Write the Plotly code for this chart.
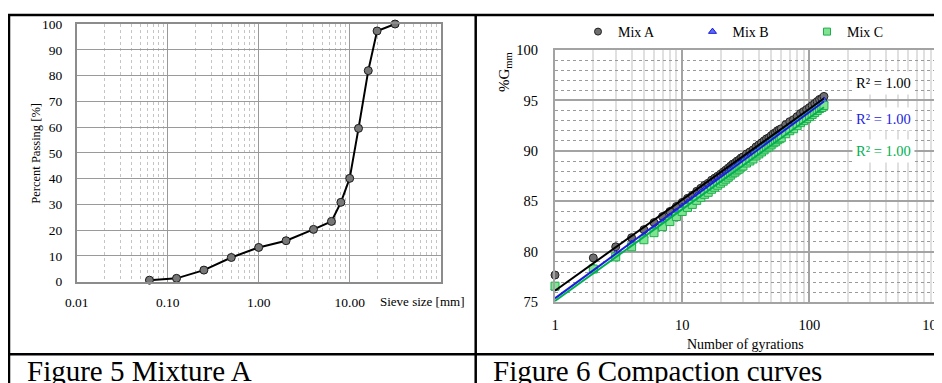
import numpy as np
import plotly.graph_objects as go

# ---------------- data ----------------
sieve_mm = [0.063, 0.125, 0.25, 0.5, 1, 2, 4, 6.3, 8, 10, 12.5, 16, 20, 31.5]
passing_pct = [0.6, 1.3, 4.5, 9.4, 13.3, 15.9, 20.3, 23.4, 30.8, 40.1, 59.5, 81.9, 97.3, 100]
sieve_tickvals = [0.01, 0.1, 1, 10]
sieve_ticktext = ["0.01", "0.10", "1.00", "10.00"]

gyrations = list(range(1, 31)) + list(range(32, 61, 2)) + list(range(65, 131, 5))
mix_a = [77.7, 79.4, 80.5, 81.4, 82.2, 82.9, 83.5, 84.0, 84.5, 84.9,
         85.3, 85.6, 86.0, 86.3, 86.6, 86.8, 87.1, 87.3, 87.5, 87.7,
         87.9, 88.1, 88.3, 88.5, 88.7, 88.8, 89.0, 89.1, 89.3, 89.4,
         89.7, 89.9, 90.1, 90.4, 90.6, 90.8, 91.0, 91.2, 91.3, 91.5,
         91.7, 91.8, 92.0, 92.1, 92.2,
         92.6, 92.9, 93.1, 93.4, 93.7, 93.9, 94.1, 94.3, 94.5, 94.7,
         94.9, 95.1, 95.2, 95.4]
mix_b = [76.4, 78.5, 79.8, 80.8, 81.6, 82.3, 82.9, 83.5, 84.0, 84.5,
         84.9, 85.2, 85.6, 85.9, 86.2, 86.4, 86.7, 86.9, 87.1, 87.3,
         87.5, 87.7, 87.9, 88.1, 88.3, 88.4, 88.6, 88.7, 88.9, 89.0,
         89.3, 89.5, 89.7, 90.0, 90.2, 90.4, 90.6, 90.8, 90.9, 91.1,
         91.3, 91.4, 91.6, 91.7, 91.8,
         92.2, 92.5, 92.7, 93.0, 93.3, 93.5, 93.7, 93.9, 94.1, 94.3,
         94.5, 94.7, 94.8, 95.0]
mix_c = [76.6, 78.3, 79.5, 80.5, 81.2, 81.9, 82.5, 83.0, 83.5, 84.0,
         84.4, 84.7, 85.1, 85.4, 85.7, 85.9, 86.2, 86.4, 86.6, 86.8,
         87.0, 87.2, 87.4, 87.6, 87.8, 87.9, 88.1, 88.2, 88.4, 88.5,
         88.8, 89.0, 89.2, 89.5, 89.7, 89.9, 90.1, 90.3, 90.4, 90.6,
         90.8, 90.9, 91.1, 91.2, 91.3,
         91.7, 92.0, 92.2, 92.5, 92.8, 93.0, 93.2, 93.4, 93.6, 93.8,
         94.0, 94.2, 94.3, 94.5]
mix_names = ["Mix A", "Mix B", "Mix C"]
gyr_tickvals = [1, 10, 100, 1000]
gyr_ticktext = ["1", "10", "100", "1000"]

# ---------------- layout helpers ----------------
# the page body has an 8px margin, so the figure is sized to fit the window
OFF = 8
FW, FH = 934, 375
FONT = "Liberation Serif, Times New Roman, serif"


def fx(px):
    return (px - OFF) / FW


def fy(py):
    return 1 - (py - OFF) / FH


def tf(size):
    return dict(family=FONT, size=size, color="#000000")


fig = go.Figure()

# ---------- left: gradation ----------
fig.add_trace(go.Scatter(
    x=sieve_mm, y=passing_pct, mode="lines+markers",
    line=dict(color="#000000", width=2),
    marker=dict(size=8, color="#777777", line=dict(color="#1a1a1a", width=1)),
    cliponaxis=False, showlegend=False, xaxis="x", yaxis="y"))

# ---------- right: compaction ----------
styles = [
    dict(symbol="circle", size=8, color="#6e6e6e", line=dict(color="#222222", width=1)),
    dict(symbol="triangle-up", size=7, color="#5a6cf5", line=dict(color="#1a1ad8", width=1)),
    dict(symbol="square", size=8, color="#7fe38f", line=dict(color="#1eb04f", width=1)),
]
trend_colors = ["#000000", "#1c1ce0", "#00b050"]
series = [mix_a, mix_b, mix_c]

for s, st in zip(series, styles):
    fig.add_trace(go.Scatter(x=gyrations, y=s, mode="markers", marker=st,
                             cliponaxis=False, showlegend=False,
                             xaxis="x2", yaxis="y2"))

logn = np.log10(np.array(gyrations, dtype=float))
r2_vals = []
for s, c in zip(series, trend_colors):
    yv = np.array(s)
    k, b = np.polyfit(logn, yv, 1)
    pred = k * logn + b
    r2 = 1 - np.sum((yv - pred) ** 2) / np.sum((yv - yv.mean()) ** 2)
    r2_vals.append(r2)
    xe = [gyrations[0], gyrations[-1]]
    fig.add_trace(go.Scatter(x=xe, y=[k * np.log10(v) + b for v in xe], mode="lines",
                             line=dict(color=c, width=2), showlegend=False,
                             cliponaxis=False, xaxis="x2", yaxis="y2"))

# legend entries
for name, st in zip(mix_names, styles):
    st2 = dict(st)
    st2["size"] = 7
    fig.add_trace(go.Scatter(x=[None], y=[None], mode="markers", name=name,
                             marker=st2, xaxis="x2", yaxis="y2"))

left_minor = [m * 10.0 ** e for e in range(-2, 2) for m in range(2, 10)]
right_minor = [m * 10.0 ** e for e in range(0, 3) for m in range(2, 10)]

fig.update_layout(
    width=FW, height=FH, margin=dict(l=0, r=0, t=0, b=0),
    paper_bgcolor="white", plot_bgcolor="white",
    font=tf(13),
    xaxis=dict(type="log", range=[-2, 2], domain=[fx(76.7), fx(440.7)], anchor="y",
               tickvals=sieve_tickvals, ticktext=sieve_ticktext, ticks="",
               ticklabelstandoff=7, tickfont=tf(13.5),
               showgrid=True, gridcolor="#9a9a9a", gridwidth=1,
               showline=True, mirror=True, linecolor="#8c8c8c", linewidth=1.5,
               minor=dict(tickvals=left_minor, showgrid=True, gridcolor="#c4c4c4",
                          griddash="dot", gridwidth=1, ticks=""),
               zeroline=False, automargin=False),
    yaxis=dict(range=[0, 100], domain=[fy(281.7), fy(24)], anchor="x", dtick=10,
               tick0=0, ticks="", ticklabelstandoff=10, tickfont=tf(13.5),
               showgrid=True, gridcolor="#9a9a9a", gridwidth=1,
               showline=True, mirror=True, linecolor="#8c8c8c", linewidth=1.5,
               zeroline=False, automargin=False),
    xaxis2=dict(type="log", range=[0, 3], domain=[fx(555), fx(936.7)], anchor="y2",
                tickvals=gyr_tickvals, ticktext=gyr_ticktext, ticks="",
                ticklabelstandoff=8, tickfont=tf(14.5), ticklabeloverflow="allow",
                showgrid=True, gridcolor="#a3a3a3", gridwidth=2,
                showline=True, mirror=True, linecolor="#a3a3a3", linewidth=2,
                minor=dict(tickvals=right_minor, showgrid=True, gridcolor="#e0e0e0",
                           gridwidth=2, ticks=""),
                zeroline=False, automargin=False),
    yaxis2=dict(range=[75, 100], domain=[fy(302.3), fy(50)], anchor="x2", dtick=5,
                tick0=75, ticks="", ticklabelstandoff=12, tickfont=tf(14.5),
                showgrid=True, gridcolor="#a3a3a3", gridwidth=2,
                showline=True, mirror=True, linecolor="#a3a3a3", linewidth=2,
                minor=dict(dtick=1, showgrid=True, gridcolor="#9a9a9a",
                           griddash="dot", gridwidth=1, ticks=""),
                zeroline=False, automargin=False),
    legend=dict(orientation="h", x=fx(578), y=fy(32), xanchor="left", yanchor="middle",
                font=tf(14), bgcolor="rgba(0,0,0,0)",
                entrywidth=69.5, entrywidthmode="pixels", traceorder="normal"),
)

ann = []
ann.append(dict(x=fx(35.7), y=fy(153), text="Percent Passing [%]", textangle=-90,
                font=tf(12.5)))
ann.append(dict(x=fx(422), y=fy(301.7), text="Sieve size [mm]", font=tf(13)))
ann.append(dict(x=fx(505), y=fy(72), text="%G<sub>mm</sub>", textangle=-90,
                font=tf(15)))
ann.append(dict(x=fx(745.7), y=fy(344), text="Number of gyrations", font=tf(14)))
for r2, c, py in zip(r2_vals, trend_colors, [83, 119, 151]):
    f = tf(14.5)
    f["color"] = c
    ann.append(dict(x=fx(883), y=fy(py), text="R² = %.2f" % r2,
                    font=f, bgcolor="white", borderpad=3))
ann.append(dict(x=fx(25), y=fy(371), text="Figure 5 Mixture A", xanchor="left",
                font=tf(29)))
ann.append(dict(x=fx(490.7), y=fy(371), text="Figure 6 Compaction curves", xanchor="left",
                font=tf(29)))
for a in ann:
    a.setdefault("xref", "paper")
    a.setdefault("yref", "paper")
    a.setdefault("showarrow", False)
    a.setdefault("xanchor", "center")
    a.setdefault("yanchor", "middle")
fig.update_layout(annotations=ann)

# table borders
border = dict(color="#000000", width=2.5)
shapes = [
    dict(type="line", x0=fx(8), x1=fx(942), y0=fy(15), y1=fy(15), line=border),
    dict(type="line", x0=fx(9), x1=fx(9), y0=fy(15), y1=fy(383), line=border),
    dict(type="line", x0=fx(475.7), x1=fx(475.7), y0=fy(15), y1=fy(383), line=border),
    dict(type="line", x0=fx(8), x1=fx(942), y0=fy(354.3), y1=fy(354.3), line=border),
]
for s in shapes:
    s["xref"] = "paper"
    s["yref"] = "paper"
fig.update_layout(shapes=shapes)

fig.write_html("out.html")
